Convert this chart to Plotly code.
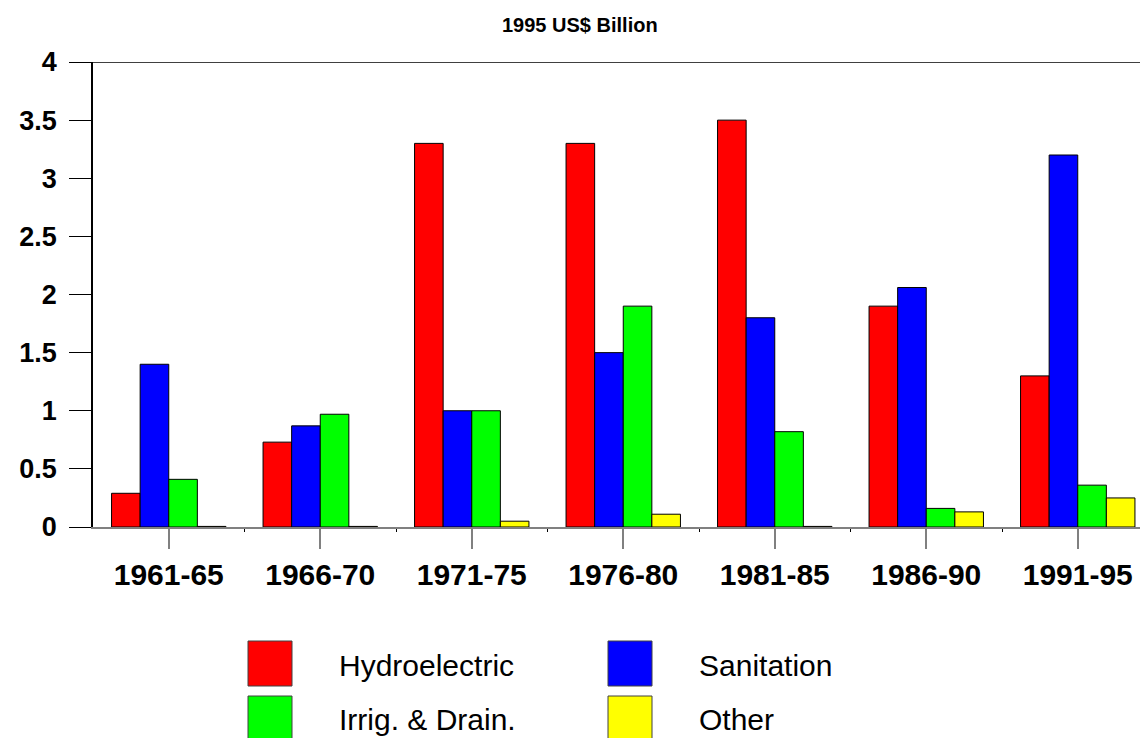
import plotly.graph_objects as go

periods = ["1961-65", "1966-70", "1971-75", "1976-80", "1981-85", "1986-90", "1991-95"]
series_names = ["Hydroelectric", "Sanitation", "Irrig. & Drain.", "Other"]
hydroelectric = [0.29, 0.73, 3.30, 3.30, 3.50, 1.90, 1.30]
sanitation = [1.40, 0.87, 1.00, 1.50, 1.80, 2.06, 3.20]
irrig_drain = [0.41, 0.97, 1.00, 1.90, 0.82, 0.16, 0.36]
other = [0.005, 0.005, 0.05, 0.11, 0.005, 0.13, 0.25]
y_ticks = [0, 0.5, 1, 1.5, 2, 2.5, 3, 3.5, 4]
y_tick_labels = ["0", "0.5", "1", "1.5", "2", "2.5", "3", "3.5", "4"]
title_text = "1995 US$ Billion"

colors = ["#FF0000", "#0000FF", "#00FF00", "#FFFF00"]
values = [hydroelectric, sanitation, irrig_drain, other]

W, H = 1140, 738
L, R, T, B = 93, 0, 62, 211
PW = W - L - R
PH = H - T - B
FONT = "Arial, Liberation Sans, sans-serif"


def px(x):
    return (x - L) / PW


def py(y):
    return (H - B - y) / PH


xs = list(range(len(periods)))
fig = go.Figure()
for name, vals, col in zip(series_names, values, colors):
    fig.add_trace(go.Bar(
        x=xs, y=vals, name=name,
        marker=dict(color=col, line=dict(color="#000000", width=1)),
        showlegend=False,
    ))

fig.update_layout(
    width=W, height=H,
    margin=dict(l=L, r=R, t=T, b=B, pad=0),
    paper_bgcolor="white", plot_bgcolor="white",
    barmode="group", bargap=0.245, bargroupgap=0,
    font=dict(family=FONT, color="black"),
    xaxis=dict(
        range=[-0.5, -0.5 + PW / 151.5],
        tickmode="array", tickvals=xs, ticktext=periods,
        ticks="outside", ticklen=20, tickwidth=1.5, tickcolor="#808080",
        showline=True, linecolor="#808080", linewidth=2,
        showgrid=False, zeroline=False,
        tickfont=dict(family=FONT, size=30, color="black", weight="bold"),
        minor=dict(tickvals=[i + 0.5 for i in xs], ticks="outside", ticklen=3,
                   tickcolor="#000000", tickwidth=1, showgrid=False),
        fixedrange=True,
    ),
    yaxis=dict(
        range=[0, 4],
        tickmode="array", tickvals=y_ticks, ticktext=y_tick_labels,
        ticks="outside", ticklen=22, tickwidth=1.2, tickcolor="#000000",
        showline=True, linecolor="#000000", linewidth=1.5,
        showgrid=False, zeroline=False,
        tickfont=dict(family=FONT, size=27, color="black", weight="bold"),
        ticklabelstandoff=7,
        fixedrange=True,
    ),
)

# top border line at y = 4
fig.add_shape(type="line", xref="paper", yref="y", x0=0, x1=1, y0=4, y1=4,
              line=dict(color="#000000", width=1.5))

# title
fig.add_annotation(text=title_text, xref="paper", yref="paper",
                   x=px(580), y=py(25), xanchor="center", yanchor="middle",
                   showarrow=False,
                   font=dict(family=FONT, size=20, color="black", weight="bold"))

# manual legend (2 x 2)
box_pos = [(248, 641), (608, 641), (248, 696), (608, 696)]
text_pos = [(337, 665), (697, 665), (337, 719), (697, 719)]
for name, col, (bx, by), (tx, ty) in zip(series_names, colors, box_pos, text_pos):
    fig.add_shape(type="rect", xref="paper", yref="paper",
                  x0=px(bx), x1=px(bx + 44), y0=py(by), y1=py(by + 45),
                  fillcolor=col, line=dict(color="#404040", width=1))
    fig.add_annotation(text=name, xref="paper", yref="paper",
                       x=px(tx), y=py(ty), xanchor="left", yanchor="middle",
                       showarrow=False,
                       font=dict(family=FONT, size=30, color="black", weight=500))

fig.write_html("out.html", config={"displayModeBar": False},
               post_script="document.body.style.margin='0';document.body.style.overflow='hidden';")
